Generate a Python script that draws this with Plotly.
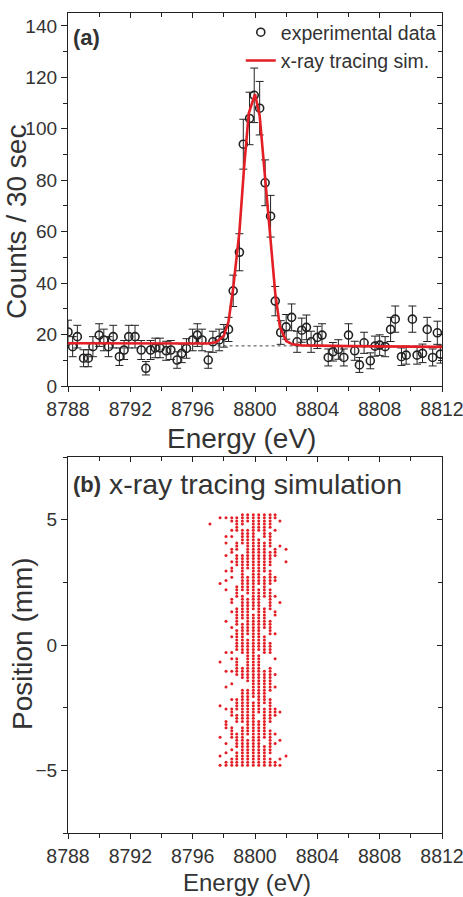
import plotly.graph_objects as go

# ---------------- panel (a): measured spectrum ----------------
energy = [8788.0, 8788.3, 8788.6, 8789.0, 8789.3, 8789.6, 8790.0, 8790.3, 8790.6, 8790.9,
          8791.3, 8791.6, 8791.9, 8792.3, 8792.7, 8793.0, 8793.3, 8793.6, 8793.9, 8794.3,
          8794.6, 8795.0, 8795.3, 8795.6, 8796.0, 8796.3, 8796.6, 8797.0, 8797.3, 8797.7,
          8798.0, 8798.3, 8798.6, 8799.0, 8799.25, 8799.65, 8799.95, 8800.3, 8800.65, 8801.0,
          8801.3, 8801.65, 8802.0, 8802.35, 8802.7, 8803.0, 8803.3, 8803.6, 8804.0, 8804.3,
          8804.7, 8805.0, 8805.35, 8805.7, 8806.0, 8806.4, 8806.7, 8807.0, 8807.4, 8807.7,
          8808.0, 8808.35, 8808.7, 8809.0, 8809.4, 8809.7, 8810.1, 8810.4, 8810.75, 8811.05,
          8811.4, 8811.7, 8811.9]
counts = [21.0, 15.3, 19.2, 10.8, 10.8, 15.3, 19.8, 17.9, 15.3, 19.2,
          11.4, 14.0, 19.2, 19.2, 14.0, 6.9, 14.0, 14.8, 14.8, 13.7,
          14.0, 10.1, 12.7, 14.6, 17.9, 19.8, 17.9, 10.1, 17.2, 17.9,
          19.5, 22.0, 37.0, 52.0, 94.0, 104.0, 113.0, 108.0, 79.0, 66.0,
          33.0, 20.8, 23.0, 26.7, 17.2, 21.7, 22.8, 17.2, 18.9, 19.8,
          11.1, 13.3, 14.2, 11.1, 19.8, 13.7, 8.2, 16.8, 9.8, 15.5,
          15.9, 15.3, 22.0, 26.0, 11.4, 12.0, 26.0, 12.0, 12.7, 22.0,
          11.1, 20.7, 12.4]
count_err = [4.6, 3.9, 4.4, 3.3, 3.3, 3.9, 4.4, 4.2, 3.9, 4.4,
             3.4, 3.7, 4.4, 4.4, 3.7, 2.6, 3.7, 3.8, 3.8, 3.7,
             3.7, 3.2, 3.6, 3.8, 4.2, 4.4, 4.2, 3.2, 4.1, 4.2,
             4.4, 4.7, 6.1, 7.2, 9.7, 10.2, 10.6, 10.4, 8.9, 8.1,
             5.7, 4.6, 4.8, 5.2, 4.1, 4.7, 4.8, 4.1, 4.3, 4.4,
             3.3, 3.6, 3.8, 3.3, 4.4, 3.7, 2.9, 4.1, 3.1, 3.9,
             4.0, 3.9, 4.7, 5.1, 3.4, 3.5, 5.1, 3.5, 3.6, 4.7,
             3.3, 4.5, 3.5]

sim_energy = [8788.0, 8796.0, 8797.0, 8797.5, 8798.0, 8798.3, 8798.6, 8799.0, 8799.3, 8799.6,
              8800.0, 8800.3, 8800.6, 8801.0, 8801.3, 8801.6, 8802.0, 8802.4, 8803.0, 8806.0, 8812.0]
sim_counts = [16.6, 16.5, 16.5, 17.0, 19.5, 25.0, 38.0, 60.0, 85.0, 106.0,
              113.5, 105.0, 85.0, 58.0, 36.0, 23.0, 17.5, 16.2, 15.8, 15.5, 15.2]

bg_energy = [8797.6, 8803.5]
bg_counts = [15.6, 15.6]

# ---------------- panel (b): ray-tracing hits ----------------
col_energy = [8797.11, 8797.76, 8798.14, 8798.51, 8798.83, 8799.19, 8799.53,
              8799.89, 8800.24, 8800.60, 8800.97, 8801.29, 8801.60, 8801.99]
# occupied 0.125-mm position bins, counted downward from +5.2 mm
col_bins = [
    "3",
    "1,22,47,61,71,77,80",
    "1,7,9,13,18,21,24,34,44,50,55,62,66-68,73,76,79,80",
    "1,2,5,7,11,12,15,17,18,20,27,28,31,36,39,44,46,50,54,59,62-64,68-71,75,78-80",
    "1-5,9-11,13-16,23-26,30-35,37-43,46-51,59-62,64-66,70-74,76-80",
    "0-3,5-9,13-24,26-33,35-44,49-52,56-66,68-80",
    "0-2,5-17,20-25,27-38,40-53,56-70,72-80",
    "0-30,32-58,60-80",
    "0-5,8-22,24-43,45-63,66-80",
    "0-7,9-18,20-26,30-36,39-44,50-60,62-71,74-80",
    "0-4,6-10,12-16,18-22,24-30,34-38,41-44,49-56,59-66,69-76,78-80",
    "0,1,5,11-13,20,21,26,31,32,38,46,51,55,62-64,70,73,79,80",
    "2,10,28,63,72,78,80",
    "11,15,77",
]
bin_top = 5.2
bin_step = 0.125

hit_e, hit_pos = [], []
for e, spec in zip(col_energy, col_bins):
    for tok in spec.split(","):
        if "-" in tok:
            a, b = tok.split("-")
            idx = range(int(a), int(b) + 1)
        else:
            idx = [int(tok)]
        for i in idx:
            hit_e.append(e)
            hit_pos.append(bin_top - i * bin_step)

RED = "#e31e24"
INK = "#222222"
TXT = "#333333"
FONT = "Liberation Sans, Arial, sans-serif"

fig = go.Figure()
fig.add_trace(go.Scatter(x=bg_energy, y=bg_counts, mode="lines",
                         line=dict(color="#444", width=1, dash="dot"),
                         showlegend=False, hoverinfo="skip", xaxis="x", yaxis="y"))
fig.add_trace(go.Scatter(x=energy, y=counts, mode="markers", name="experimental data",
                         marker=dict(symbol="circle-open", size=8, color=INK,
                                     line=dict(width=1.6, color=INK)),
                         error_y=dict(type="data", array=count_err, color=INK,
                                      thickness=1, width=4),
                         xaxis="x", yaxis="y"))
fig.add_trace(go.Scatter(x=sim_energy, y=sim_counts, mode="lines", name="x-ray tracing sim.",
                         line=dict(color=RED, width=2.6), xaxis="x", yaxis="y"))
fig.add_trace(go.Scatter(x=hit_e, y=hit_pos, mode="markers", showlegend=False,
                         marker=dict(size=3.0, color=RED, line=dict(width=0)),
                         xaxis="x2", yaxis="y2"))
# empty traces so the inner-tick mirror axes get drawn
for xa, ya in [("x3", "y"), ("x", "y3"), ("x4", "y2"), ("x2", "y4")]:
    fig.add_trace(go.Scatter(x=[], y=[], showlegend=False, xaxis=xa, yaxis=ya))

top_dom = [0.5451, 1.0]
bot_dom = [0.0, 0.4585]
xr = [8788, 8812]

def xaxis_main(anchor):
    return dict(domain=[0, 1], anchor=anchor, range=xr, tick0=8788, dtick=4,
                ticks="outside", ticklen=5, tickwidth=1.2, tickcolor=INK,
                minor=dict(dtick=2, tick0=8788, ticks="outside", ticklen=4, tickwidth=1.2, tickcolor=INK),
                showline=True, linecolor=INK, linewidth=1.3, mirror=True,
                showgrid=False, zeroline=False, automargin=False,
                ticklabeloverflow="allow",
                tickfont=dict(family=FONT, size=19.5, color=TXT))

def xaxis_mirror(over, anchor):
    return dict(overlaying=over, anchor=anchor, side="top", range=xr, tick0=8788, dtick=4,
                ticks="inside", ticklen=5, tickwidth=1.2, tickcolor=INK,
                minor=dict(dtick=2, tick0=8788, ticks="inside", ticklen=4, tickwidth=1.2, tickcolor=INK),
                showticklabels=False, showline=False, showgrid=False, zeroline=False,
                automargin=False)

def yaxis_main(dom, anchor, rng, dtick, mdtick):
    return dict(domain=dom, anchor=anchor, range=rng, tick0=0, dtick=dtick,
                ticks="outside", ticklen=6, tickwidth=1.2, tickcolor=INK,
                minor=dict(dtick=mdtick, tick0=0, ticks="outside", ticklen=4, tickwidth=1.2, tickcolor=INK),
                showline=True, linecolor=INK, linewidth=1.3, mirror=True,
                showgrid=False, zeroline=False, automargin=False,
                tickfont=dict(family=FONT, size=19, color=TXT))

def yaxis_mirror(over, anchor, rng, dtick, mdtick):
    return dict(overlaying=over, anchor=anchor, side="right", range=rng, tick0=0, dtick=dtick,
                ticks="inside", ticklen=5, tickwidth=1.2, tickcolor=INK,
                minor=dict(dtick=mdtick, tick0=0, ticks="inside", ticklen=4, tickwidth=1.2, tickcolor=INK),
                showticklabels=False, showline=False, showgrid=False, zeroline=False,
                automargin=False)

def label(text, x, y, size, angle=0, xanchor="center", bold=False):
    return dict(text=f"<b>{text}</b>" if bold else text, x=x, y=y, xref="paper", yref="paper",
                xanchor=xanchor, yanchor="middle", showarrow=False, textangle=angle,
                font=dict(family=FONT, size=size, color=TXT))

fig.update_layout(
    width=463, height=897,
    margin=dict(l=68, r=21, t=13, b=64, autoexpand=False),
    plot_bgcolor="white", paper_bgcolor="white",
    font=dict(family=FONT, color=TXT),
    xaxis=xaxis_main("y"),
    xaxis2=xaxis_main("y2"),
    xaxis3=xaxis_mirror("x", "y"),
    xaxis4=xaxis_mirror("x2", "y2"),
    yaxis=yaxis_main(top_dom, "x", [0, 145], 20, 10),
    yaxis2=yaxis_main(bot_dom, "x2", [-7.5, 7.5], 5, 2.5),
    yaxis3=yaxis_mirror("y", "x", [0, 145], 20, 10),
    yaxis4=yaxis_mirror("y2", "x2", [-7.5, 7.5], 5, 2.5),
    legend=dict(x=0.462, y=1.0, xanchor="left", yanchor="top", bgcolor="rgba(0,0,0,0)",
                font=dict(family=FONT, size=19.5, color=TXT), tracegroupgap=0,
                traceorder="normal", itemwidth=30),
    annotations=[
        label("(a)", 0.008, 0.9707, 22, xanchor="left", bold=True),
        label("(b)", 0.008, 0.4256, 22, xanchor="left", bold=True),
        label("x-ray tracing simulation", 0.105, 0.4256, 28.5, xanchor="left"),
        label("Energy (eV)", 0.463, 0.4817, 28),
        label("Energy (eV)", 0.479, -0.0605, 24),
        label("Counts / 30 sec", -0.139, 0.745, 28, angle=-90),
        label("Position (mm)", -0.123, 0.2317, 28, angle=-90),
    ],
)

fig.write_html("out.html")
